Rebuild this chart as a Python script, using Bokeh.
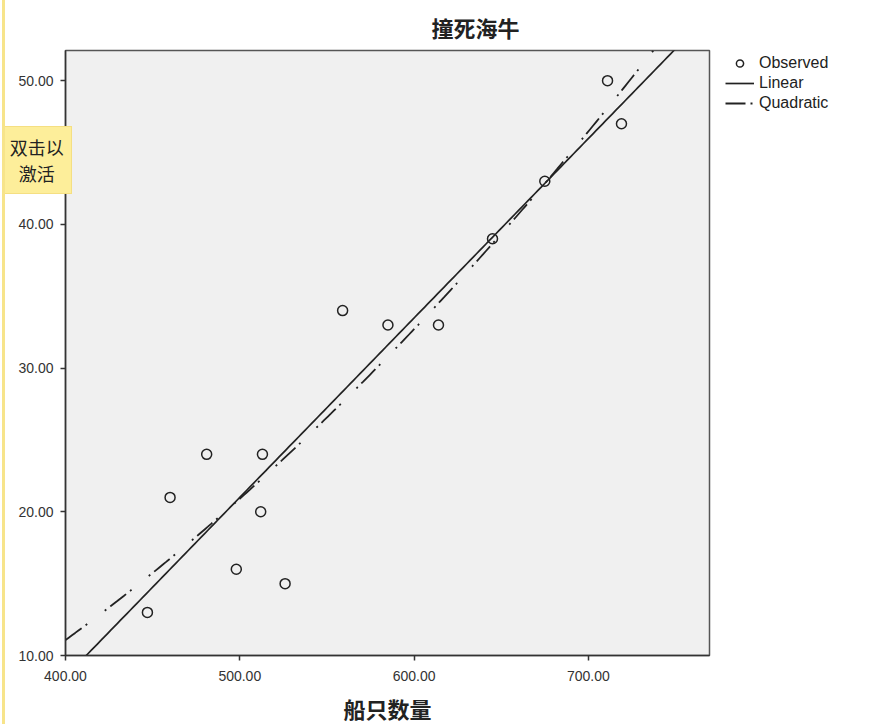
import numpy as np
from bokeh.plotting import figure
from bokeh.models import FixedTicker, PrintfTickFormatter, Legend, LegendItem, Range1d
from bokeh.embed import file_html
from bokeh.resources import INLINE

# observed data: boats (x) vs manatee deaths (y)
boats = [447, 460, 481, 498, 513, 512, 526, 559, 585, 614, 645, 675, 711, 719]
deaths = [13, 21, 24, 16, 24, 20, 15, 34, 33, 33, 39, 43, 50, 47]
x_ticks = [400, 500, 600, 700]
y_ticks = [10, 20, 30, 40, 50]
title_text = "撞死海牛"
x_label = "船只数量"
legend_labels = ["Observed", "Linear", "Quadratic"]
tooltip_lines = ["双击以", "\u2002激活"]

CJK = "Noto Sans CJK SC"
SANS = "Liberation Sans"

p = figure(frame_width=644, frame_height=605, output_backend="svg", toolbar_location=None,
           x_range=Range1d(400, 769.5), y_range=Range1d(10, 52.1),
           min_border_left=65, min_border_right=185, min_border_top=50, min_border_bottom=69)
p.background_fill_color = "#F0F0F0"
p.border_fill_color = "white"
p.outline_line_color = "#555555"
p.outline_line_width = 1.5
p.grid.visible = False
# thin yellow edge on the left of the chart
p.stylesheets = [":host::before {content: ''; position: absolute; left: 2px; top: 0; "
                 "width: 3px; height: 100%; background: #F7E48A; z-index: 5;}"]

# fitted curves from the observed data
xb = np.array(boats, dtype=float)
yb = np.array(deaths, dtype=float)
lin = np.polyfit(xb, yb, 1)
quad = np.polyfit(xb, yb, 2)
xs = np.linspace(400, 769.5, 200)

r_obs = p.scatter(boats, deaths, size=10, marker="circle", fill_color=None,
                  line_color="#222222", line_width=1.5)
r_lin = p.line(xs, np.polyval(lin, xs), line_color="#222222", line_width=1.7)
r_quad = p.line(xs, np.polyval(quad, xs), line_color="#222222", line_width=1.8,
                line_dash="20 5 2 22 2 5")
dummy = p.line([], [], line_alpha=0)

p.title.text = title_text
p.title.text_font = CJK
p.title.text_font_size = "22px"
p.title.text_font_style = "bold"
p.title.text_color = "#222222"
p.title.align = "left"
p.title.offset = 366
p.title.standoff = 16

for ax, ticks in ((p.xaxis, x_ticks), (p.yaxis, y_ticks)):
    ax.ticker = FixedTicker(ticks=ticks)
    ax.formatter = PrintfTickFormatter(format="%.2f")
    ax.major_label_text_font = SANS
    ax.major_label_text_font_size = "14px"
    ax.major_label_text_color = "#333333"
    ax.axis_line_color = "#333333"
    ax.axis_line_width = 1.5
    ax.major_tick_line_color = "#333333"
    ax.major_tick_line_width = 1.5
    ax.major_tick_out = 5
    ax.major_tick_in = 0
    ax.minor_tick_line_color = None

p.xaxis.major_label_standoff = 10
p.yaxis.major_label_standoff = 7
p.xaxis.axis_label = x_label
p.xaxis.axis_label_text_font = CJK
p.xaxis.axis_label_text_font_size = "22px"
p.xaxis.axis_label_text_font_style = "bold"
p.xaxis.axis_label_text_color = "#222222"
p.xaxis.axis_label_standoff = 8

legend = Legend(items=[LegendItem(label=legend_labels[0], renderers=[r_obs]),
                       LegendItem(label=legend_labels[1], renderers=[r_lin]),
                       LegendItem(label=legend_labels[2], renderers=[r_quad])],
                location=(16, 543))
legend.border_line_color = None
legend.background_fill_alpha = 0
legend.label_text_font = SANS
legend.label_text_font_size = "16px"
legend.label_text_color = "#222222"
legend.glyph_width = 29
legend.glyph_height = 18
legend.label_height = 18
legend.spacing = 2
legend.label_standoff = 5
legend.padding = 0
legend.margin = 0
p.add_layout(legend, "right")

# yellow "double-click to activate" hint on the left edge
hint = Legend(items=[LegendItem(label=t, renderers=[dummy]) for t in tooltip_lines],
              location=(-1296, 461))
hint.label_text_font = CJK
hint.label_text_font_size = "18px"
hint.label_text_color = "#222222"
hint.glyph_width = 0
hint.glyph_height = 26
hint.label_height = 26
hint.label_standoff = 0
hint.spacing = 0
hint.padding = 7
hint.margin = 0
hint.background_fill_color = "#FDEE9A"
hint.background_fill_alpha = 1
hint.border_line_color = "#EDCF6A"
hint.border_line_width = 1
p.add_layout(hint, "right")

open("out.html", "w").write(file_html(p, INLINE))
